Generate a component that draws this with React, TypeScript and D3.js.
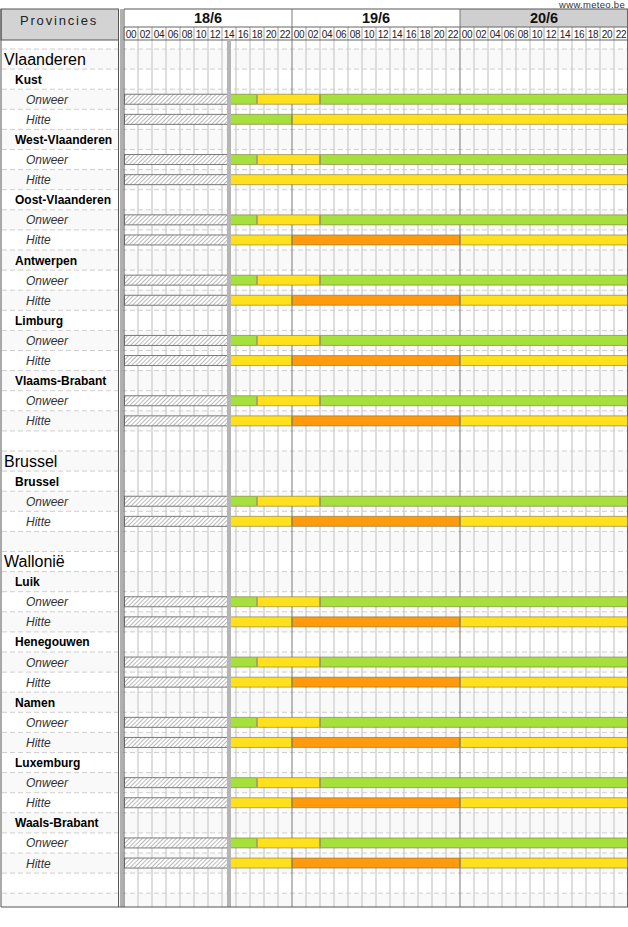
import React from "react";
import * as d3 from "d3";

// ---- data ----
const days = ["18/6", "19/6", "20/6"];
const hourLabels = ["00", "02", "04", "06", "08", "10", "12", "14", "16", "18", "20", "22"];
const nowHour = 15; // hours since 18/6 00:00
const regions = ["Vlaanderen", "Brussel", "Wallonië"];
const provincesVlaanderen = ["Kust", "West-Vlaanderen", "Oost-Vlaanderen", "Antwerpen", "Limburg", "Vlaams-Brabant"];
const provincesBrussel = ["Brussel"];
const provincesWallonie = ["Luik", "Henegouwen", "Namen", "Luxemburg", "Waals-Brabant"];
const phenomena = ["Onweer", "Hitte"];
const levelColors = ["#ffffff", "#a6e03c", "#ffe01c", "#ff9a0c"];
// segments: [startHour, endHour, level]
const onweerSegments = [[15, 19, 1], [19, 28, 2], [28, 72, 1]];
const hitteKust = [[15, 24, 1], [24, 72, 2]];
const hitteWestVlaanderen = [[15, 72, 2]];
const hitteOther = [[15, 24, 2], [24, 48, 3], [48, 72, 2]];

type Row = { label: string; kind: "region" | "province" | "phen" | "blank"; segs?: number[][] };

function hitteFor(p: string) {
  if (p === "Kust") return hitteKust;
  if (p === "West-Vlaanderen") return hitteWestVlaanderen;
  return hitteOther;
}

function buildRows(): Row[] {
  const rows: Row[] = [];
  const groups = [provincesVlaanderen, provincesBrussel, provincesWallonie];
  regions.forEach((r, gi) => {
    rows.push({ label: r, kind: "region" });
    groups[gi].forEach((p) => {
      rows.push({ label: p, kind: "province" });
      rows.push({ label: phenomena[0], kind: "phen", segs: onweerSegments });
      rows.push({ label: phenomena[1], kind: "phen", segs: hitteFor(p) });
    });
    rows.push({ label: "", kind: "blank" });
  });
  rows.push({ label: "", kind: "blank" });
  return rows;
}

const rows = buildRows();

export default function App() {
  const W = 628, H = 927;
  const left = 124, right = 628;
  const top = 9, dayBottom = 27, headBottom = 40, bottom = 907;
  const rowTop = 49, rowH = 20.1;
  const x = d3.scaleLinear().domain([0, 72]).range([left, right]);
  const y = d3.scaleLinear().domain([0, rows.length]).range([rowTop, rowTop + rows.length * rowH]);
  const font = "'Liberation Sans', Arial, sans-serif";
  const cols = d3.range(0, 72, 2);

  return (
    <svg width={W} height={H} style={{ position: "absolute", left: 0, top: 0, background: "#fff" }} fontFamily={font}>
      <defs>
        <pattern id="hatch" width="3" height="3" patternUnits="userSpaceOnUse" patternTransform="rotate(45)">
          <rect width="3" height="3" fill="#fff" />
          <line x1="0" y1="0" x2="0" y2="3" stroke="#808080" strokeWidth="1.1" />
        </pattern>
        <clipPath id="body">
          <rect x={0} y={headBottom} width={W} height={bottom - headBottom} />
        </clipPath>
      </defs>

      <text x={625} y={7.5} fontSize={9.5} textAnchor="end" fill="#333" letterSpacing={0.3}>www.meteo.be</text>

      {/* row backgrounds */}
      <g clipPath="url(#body)">
        {rows.map((r, i) => (
          <rect key={"bg" + i} x={1} y={y(i)} width={W} height={rowH} fill={i % 2 === 0 ? "#f9f9f9" : "#ffffff"} />
        ))}
        {/* vertical light grid */}
        {cols.map((h) => (h % 24 === 0 ? null : (
          <line key={"vg" + h} x1={x(h)} x2={x(h)} y1={headBottom} y2={bottom} stroke="#d6d6d6" strokeWidth={1.6} />
        )))}
        {/* dashed row lines */}
        {rows.map((r, i) => (
          <line key={"dl" + i} x1={2} x2={W} y1={y(i)} y2={y(i)} stroke="#cfcfcf" strokeDasharray="5,3" />
        ))}
      </g>

      {/* header: left box */}
      <rect x={1} y={top} width={117.5} height={headBottom - top} fill="#d3d3d3" stroke="#555" />
      <text x={59} y={24.5} fontSize={13} textAnchor="middle" letterSpacing={1.8} fill="#222">Provincies</text>

      {/* header: days */}
      {days.map((d, i) => (
        <g key={d}>
          <rect x={x(i * 24)} y={top} width={x(24) - x(0)} height={dayBottom - top} fill={i === 2 ? "#cfcfcf" : "#fff"} />
          <text x={(x(i * 24) + x(i * 24 + 24)) / 2} y={23} fontSize={14.5} fontWeight="bold" textAnchor="middle" fill="#111">{d}</text>
        </g>
      ))}
      {/* header: hours */}
      {cols.map((h) => (
        <g key={"h" + h}>
          <line x1={x(h)} x2={x(h)} y1={dayBottom} y2={headBottom} stroke="#a0a0a0" />
          <text x={x(h) + 7} y={37.5} fontSize={10} textAnchor="middle" fill="#222" letterSpacing={-0.4}>{hourLabels[(h % 24) / 2]}</text>
        </g>
      ))}
      <line x1={left} x2={right} y1={top} y2={top} stroke="#555" />
      <line x1={left} x2={right} y1={dayBottom} y2={dayBottom} stroke="#666" />
      <line x1={left} x2={right} y1={headBottom} y2={headBottom} stroke="#666" />
      <line x1={right - 0.5} x2={right - 0.5} y1={top} y2={bottom} stroke="#666" />

      {/* day boundaries */}
      {[24, 48].map((h) => (
        <line key={"db" + h} x1={x(h)} x2={x(h)} y1={top} y2={bottom} stroke="#7a7a7a" />
      ))}

      {/* bars */}
      {rows.map((r, i) => {
        if (r.kind !== "phen" || !r.segs) return null;
        const cy = (y(i) + y(i + 1)) / 2;
        return (
          <g key={"bar" + i}>
            <rect x={x(0) + 0.5} y={cy - 5} width={x(nowHour) - x(0)} height={10} fill="url(#hatch)" stroke="#7a7a7a" />
            {r.segs.map((s, j) => (
              <rect key={j} x={x(s[0]) + 0.5} y={cy - 5} width={x(s[1]) - x(s[0]) - 1} height={10}
                fill={levelColors[s[2]]} stroke="rgba(110,100,40,0.5)" />
            ))}
          </g>
        );
      })}

      {/* now line */}
      <line x1={x(nowHour)} x2={x(nowHour)} y1={headBottom} y2={bottom} stroke="#b5b5b5" strokeWidth={4} />

      {/* left panel labels */}
      {rows.map((r, i) => {
        const cy = (y(i) + y(i + 1)) / 2;
        if (r.kind === "region")
          return <text key={"t" + i} x={4} y={cy + 5.5} fontSize={16} fill="#000">{r.label}</text>;
        if (r.kind === "province")
          return <text key={"t" + i} x={15} y={cy + 4.5} fontSize={12} fontWeight="bold" fill="#000">{r.label}</text>;
        if (r.kind === "phen")
          return <text key={"t" + i} x={26} y={cy + 4.5} fontSize={12} fontStyle="italic" fill="#333">{r.label}</text>;
        return null;
      })}

      {/* frame lines */}
      <line x1={1} x2={1} y1={top} y2={bottom} stroke="#555" />
      <line x1={118.5} x2={118.5} y1={top} y2={bottom} stroke="#555" />
      <line x1={121.5} x2={121.5} y1={top} y2={bottom} stroke="#b0b0b0" strokeWidth={3} />
      <line x1={left} x2={left} y1={top} y2={bottom} stroke="#555" />
      <line x1={1} x2={right} y1={bottom} y2={bottom} stroke="#555" />
    </svg>
  );
}
